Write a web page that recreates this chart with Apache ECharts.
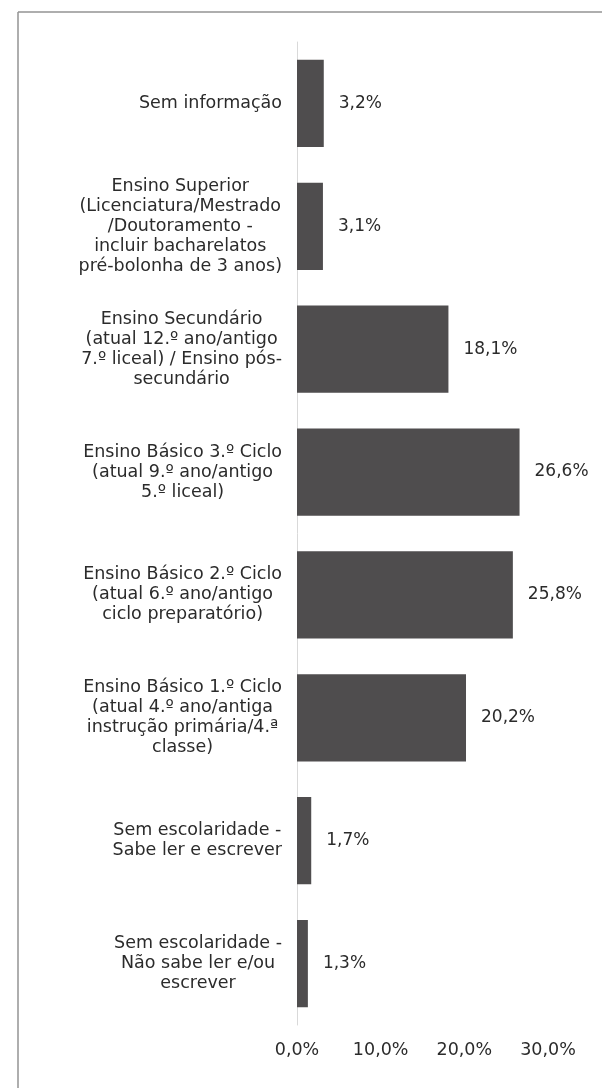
<!DOCTYPE html>
<html>
<head>
<meta charset="utf-8">
<script src="https://cdn.jsdelivr.net/npm/echarts@6/dist/echarts.min.js"></script>
<style>
  html, body { margin: 0; padding: 0; background: #fff; }
  #main { width: 602px; height: 1088px; }
</style>
</head>
<body>
<div id="main"></div>
<script>
// categories top to bottom, lines broken as in the original
var categories = [
  'Sem informação',
  'Ensino Superior\n(Licenciatura/Mestrado\n/Doutoramento -\nincluir bacharelatos\npré-bolonha de 3 anos)',
  'Ensino Secundário\n(atual 12.º ano/antigo\n7.º liceal) / Ensino pós-\nsecundário',
  'Ensino Básico 3.º Ciclo\n(atual 9.º ano/antigo\n5.º liceal)',
  'Ensino Básico 2.º Ciclo\n(atual 6.º ano/antigo\nciclo preparatório)',
  'Ensino Básico 1.º Ciclo\n(atual 4.º ano/antiga\ninstrução primária/4.ª\nclasse)',
  'Sem escolaridade -\nSabe ler e escrever',
  'Sem escolaridade -\nNão sabe ler e/ou\nescrever'
];
var values = [3.2, 3.1, 18.1, 26.6, 25.8, 20.2, 1.7, 1.3];
var axisMin = 0, axisMax = 30, axisStep = 10;

function pct(v) {
  return v.toFixed(1).replace('.', ',') + '%';
}

var font = '"DejaVu Sans", sans-serif';
var chart = echarts.init(document.getElementById('main'));
chart.setOption({
  animation: false,
  backgroundColor: '#fff',
  textStyle: { fontFamily: font },
  graphic: [
    { type: 'line', shape: { x1: 18, y1: 12, x2: 18, y2: 1088 }, style: { stroke: '#939393', lineWidth: 1.5 } },
    { type: 'line', shape: { x1: 18, y1: 12, x2: 602, y2: 12 }, style: { stroke: '#939393', lineWidth: 1.5 } }
  ],
  grid: { left: 297, right: 54, top: 42, bottom: 63 },
  xAxis: {
    type: 'value',
    min: axisMin,
    max: axisMax,
    interval: axisStep,
    axisLine: { show: false },
    axisTick: { show: false },
    splitLine: { show: false },
    axisLabel: {
      margin: 16,
      color: '#2b2b2b',
      fontSize: 17.5,
      fontFamily: font,
      formatter: function (v) { return pct(v); }
    }
  },
  yAxis: {
    type: 'category',
    inverse: true,
    data: categories,
    axisLine: { show: true, lineStyle: { color: '#d9d9d9', width: 1 } },
    axisTick: { show: false },
    axisLabel: {
      margin: 15,
      align: 'right',
      formatter: function (v) {
        return v.split('\n').map(function (l) { return '{c|' + l + '}'; }).join('\n');
      },
      rich: {
        c: { align: 'center', fontSize: 17.5, lineHeight: 20, color: '#2b2b2b', fontFamily: font }
      }
    }
  },
  series: [{
    type: 'bar',
    data: values,
    barCategoryGap: '29%',
    itemStyle: { color: '#4f4d4e' },
    label: {
      show: true,
      position: 'right',
      distance: 15,
      color: '#2b2b2b',
      fontSize: 17,
      fontFamily: font,
      formatter: function (p) { return pct(p.value); }
    }
  }]
});
</script>
</body>
</html>
